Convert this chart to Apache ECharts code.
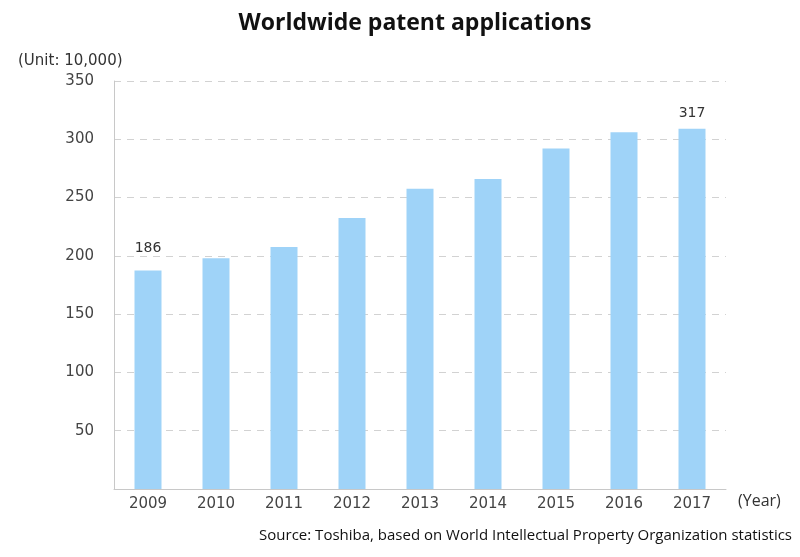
<!DOCTYPE html>
<html><head><meta charset="utf-8">
<script src="https://cdn.jsdelivr.net/npm/echarts@6/dist/echarts.min.js"></script>
<style>html,body{margin:0;padding:0;background:#fff}#c{width:800px;height:557px}</style>
</head><body><div id="c"></div>
<script>
const years = ['2009','2010','2011','2012','2013','2014','2015','2016','2017'];
const applications = [187.5, 198, 207.5, 232.5, 257.5, 266, 292, 306, 309];
const barLabels = ['186', '', '', '', '', '', '', '', '317'];
const yTicks = [0, 50, 100, 150, 200, 250, 300, 350];

const labelDist = {0: 15, 8: 8};
const chart = echarts.init(document.getElementById('c'));
chart.setOption({
  animation: false,
  backgroundColor: '#fff',
  title: {
    text: 'Worldwide patent applications', left: 410, top: 7, textAlign: 'center',
    textStyle: {fontFamily: 'Open Sans', fontWeight: 'bold', fontSize: 23, color: '#111'}
  },
  graphic: [
    {type: 'text', left: 18, top: 54, style: {text: '(Unit: 10,000)', font: '15px "DejaVu Sans"', fill: '#333'}},
    {type: 'text', left: 738, top: 493, style: {text: '(Year)', font: '16px "Open Sans"', fill: '#333'}},
    {type: 'text', right: 8, top: 528, style: {text: 'Source: Toshiba, based on World Intellectual Property Organization statistics', font: '15px "Open Sans"', fill: '#111'}}
  ],
  grid: {left: 114, right: 74, top: 81, bottom: 68, containLabel: false},
  xAxis: {
    type: 'category', data: years,
    axisLine: {lineStyle: {color: '#c8c8c8', width: 1}},
    axisTick: {show: false},
    axisLabel: {color: '#444', fontFamily: 'DejaVu Sans', fontSize: 15, margin: 8}
  },
  yAxis: {
    type: 'value', min: 0, max: 350, interval: 50,
    axisLine: {show: true, lineStyle: {color: '#c8c8c8'}},
    axisTick: {show: false},
    splitLine: {lineStyle: {color: '#d2d2d2', type: [7, 6], width: 1}},
    axisLabel: {color: '#444', fontFamily: 'DejaVu Sans', fontSize: 15, margin: 20,
      formatter: v => (v === 0 ? '' : String(yTicks[yTicks.indexOf(v)]))}
  },
  series: [{
    type: 'bar', barWidth: 27,
    itemStyle: {color: '#9fd3f8'},
    data: applications.map((v, i) => ({
      value: v,
      label: {show: barLabels[i] !== '', position: 'top', distance: labelDist[i] || 5,
        formatter: () => barLabels[i], color: '#333', fontFamily: 'DejaVu Sans', fontSize: 14}
    }))
  }]
});
</script></body></html>
